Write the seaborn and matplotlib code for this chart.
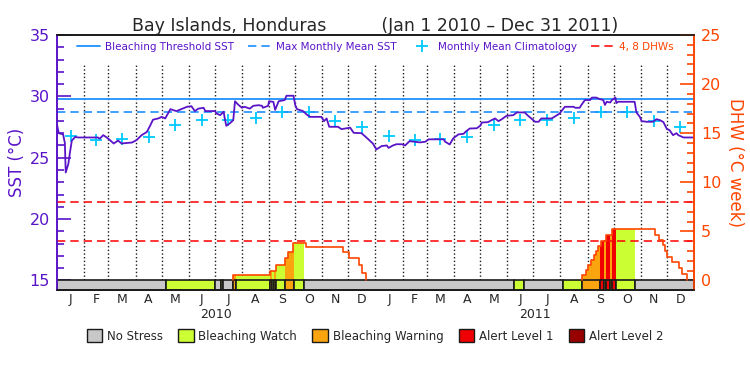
import numpy as np
import pandas as pd
import matplotlib
matplotlib.use('Agg')
import matplotlib.pyplot as plt
from matplotlib.lines import Line2D
from matplotlib.patches import Patch
import seaborn as sns

sns.set_theme(style='white')
plt.rcParams['font.family'] = ['DejaVu Sans']

# daily SST (day number from Jan 1 2010)
sst_day = [0, 2, 7, 9, 10, 13, 15, 17, 21, 24, 47, 49, 53, 58, 65, 70, 74, 86, 91, 97,
           103, 107, 110, 116, 120, 124, 130, 133, 137, 149, 154, 158, 162, 168, 170, 181,
           183, 187, 191, 192, 194, 198, 202, 204, 208, 212, 215, 221, 225, 231, 235, 236,
           242, 243, 248, 250, 254, 261, 263, 271, 273, 275, 282, 286, 290, 303, 306, 309,
           312, 322, 326, 332, 336, 340, 349, 355, 362, 366, 372, 378, 380, 385, 389, 395,
           399, 404, 410, 416, 422, 426, 443, 445, 450, 454, 460, 466, 468, 473, 481, 485,
           487, 494, 498, 502, 506, 510, 515, 523, 527, 536, 540, 548, 552, 555, 567, 573,
           576, 582, 592, 594, 599, 601, 605, 611, 613, 618, 622, 626, 628, 630, 634, 636,
           640, 641, 643, 662, 664, 668, 670, 676, 683, 687, 691, 695, 699, 702, 706, 710,
           712, 718, 730]
sst_val = [27.7, 27.0, 26.9, 26.2, 23.8, 24.5, 25.5, 26.4, 26.7, 26.65, 26.65, 26.55, 26.84,
           26.6, 26.16, 26.4, 26.16, 26.24, 26.43, 26.84, 27.1, 27.65, 28.1, 28.2, 28.33,
           28.2, 28.96, 28.88, 28.8, 29.15, 29.2, 28.8, 29.0, 29.07, 28.8, 28.8, 28.6, 28.47,
           28.75, 28.3, 27.6, 27.8, 28.06, 29.6, 29.3, 29.07, 29.15, 29.0, 29.23, 29.28,
           29.23, 29.07, 29.23, 29.6, 29.55, 28.9, 29.6, 29.7, 30.05, 30.05, 29.3, 28.96,
           28.8, 28.53, 28.33, 28.33, 27.98, 28.2, 27.52, 27.52, 27.33, 27.4, 27.45, 27.03,
           27.0, 26.62, 26.16, 25.67, 25.95, 26.0, 25.8, 26.0, 26.1, 26.1, 26.0, 26.35, 26.3,
           26.25, 26.3, 26.5, 26.5, 26.3, 26.08, 26.57, 26.9, 26.95, 27.1, 27.38, 27.4, 27.6,
           27.87, 27.9, 28.06, 28.2, 27.98, 28.15, 28.41, 28.47, 28.69, 28.69, 28.41, 27.93,
           27.93, 28.2, 28.2, 28.47, 28.6, 29.15, 29.15, 29.07, 29.07, 29.3, 29.7, 29.7, 29.9,
           29.9, 29.78, 29.7, 29.3, 29.56, 29.5, 29.7, 29.9, 29.45, 29.56, 29.56, 28.69,
           28.33, 27.98, 27.93, 27.93, 28.14, 28.06, 27.9, 27.33, 27.25, 26.84, 27.0, 26.84,
           26.65, 26.65]

# monthly mean climatology (Jan..Dec)
clim = [26.78, 26.48, 26.5, 26.7, 27.65, 28.06, 28.1, 28.27, 28.69, 28.74, 28.03, 27.49]
mmm = 28.76
threshold = 29.76
dhw_levels = [4, 8]

# degree heating weeks, step values
dhw_day = [0, 202, 244, 251, 261, 265, 270, 285, 328, 335, 346, 349, 354,
           602, 606, 609, 612, 615, 618, 620, 623, 629, 636, 685, 690, 694, 697, 699,
           705, 713, 716, 722]
dhw_val = [0, 0.55, 1.0, 1.58, 2.27, 2.94, 3.8, 3.45, 2.88, 2.27, 1.58, 0.8, 0,
           0.56, 1.07, 1.58, 2.09, 2.6, 3.04, 3.52, 4.06, 4.61, 5.29, 4.64, 4.13, 3.62,
           3.04, 2.43, 1.86, 1.24, 0.66, 0]

# bleaching alert status periods
status_start = [0, 125, 181, 188, 190, 202, 205, 244, 246, 249, 251, 261, 272, 283,
                524, 535, 580, 602, 622, 627, 629, 634, 636, 641, 662]
status_code = ['none', 'watch', 'none', 'watch', 'none', 'warning', 'watch', 'warning',
               'watch', 'warning', 'watch', 'warning', 'watch', 'none', 'watch', 'none',
               'watch', 'warning', 'alert1', 'warning', 'alert1', 'warning', 'alert1',
               'watch', 'none']
status_names = ['No Stress', 'Bleaching Watch', 'Bleaching Warning', 'Alert Level 1', 'Alert Level 2']
status_keys = ['none', 'watch', 'warning', 'alert1', 'alert2']
status_colors = ['#c8c8c8', '#ccff33', '#faa50f', '#f00000', '#990000']
cmap = dict(zip(status_keys, status_colors))

purple = '#5a14c8'
orange = '#ff4500'
blue = '#1e90ff'
cyan = '#00c8ff'

start = pd.Timestamp('2010-01-01')
months = pd.date_range('2010-01-01', '2012-01-01', freq='MS')
mdays = np.array([(m - start).days for m in months])
mid = (mdays[:-1] + mdays[1:]) / 2
ndays = mdays[-1]

fig = plt.figure(figsize=(7.5, 3.75), dpi=100)
ax = fig.add_axes([0.076, 0.2267, 0.8493, 0.68])
ax2 = ax.twinx()

ax.set_xlim(0, ndays)
ax.set_ylim(14.225, 35)
ax2.set_ylim(-0.97, 25)

# month grid
ax.vlines(mdays[1:-1], 15, 32.7, colors='k', linestyles=':', linewidth=1)

ax.axhline(threshold, color=blue, lw=1.3)
ax.axhline(mmm, color=blue, lw=1.2, dashes=(5, 3))

sns.lineplot(x=sst_day, y=sst_val, ax=ax, color=purple, lw=1.3)
clim_df = pd.DataFrame({'day': mid, 'sst': clim * 2})
sns.scatterplot(data=clim_df, x='day', y='sst', ax=ax, marker='+', s=70,
                color=cyan, linewidth=1.3)
ax.set_xlabel('')

for lv in dhw_levels:
    ax2.axhline(lv, color='#ff1010', lw=1.2, dashes=(5, 3))

# DHW fill by status
dd = np.array(dhw_day)
dv = np.array(dhw_val)
status_end = status_start[1:] + [ndays]
def dhw_at(t):
    return dv[np.searchsorted(dd, t, side='right') - 1]

for s, e, c in zip(status_start, status_end, status_code):
    if c == 'none':
        continue
    xs = [s] + [d for d in dhw_day if s < d < e] + [e]
    ys = [dhw_at(x) for x in xs[:-1]]
    ys = ys + [ys[-1]]
    ax2.fill_between(xs, 0, ys, step='post', color=cmap[c], lw=0)

# DHW outline per episode
nz = np.flatnonzero(dv > 0)
runs = np.split(nz, np.flatnonzero(np.diff(nz) > 1) + 1)
for r in runs:
    k, m = r[0], r[-1]
    xs = [dd[k]] + list(dd[k:m + 2])
    ys = [0] + list(dv[k:m + 2])
    ax2.step(xs, ys, where='post', color=orange, lw=1.2)

# status bar
for s, e, c in zip(status_start, status_end, status_code):
    ax2.broken_barh([(s, e - s)], (-0.97, 0.97), facecolors=cmap[c],
                    edgecolor='k', linewidth=1.2)

# axes styling
ax.set_xticks(mid)
ax.set_xticklabels(['J', 'F', 'M', 'A', 'M', 'J', 'J', 'A', 'S', 'O', 'N', 'D'] * 2,
                   fontsize=9)
ax.tick_params(axis='x', length=0, pad=2)
for i, yr in enumerate(['2010', '2011']):
    ax.text((mdays[12 * i] + mdays[12 * i + 12]) / 2, -0.095, yr,
            transform=ax.get_xaxis_transform(), ha='center', va='center', fontsize=9)

ax.set_yticks([15, 20, 25, 30, 35])
ax.set_yticks(np.arange(15, 36), minor=True)
ax.tick_params(axis='y', which='major', direction='in', length=10, width=1.2,
               color=purple, labelcolor=purple, labelsize=11.5, pad=5)
ax.tick_params(axis='y', which='minor', direction='in', length=5, width=1.2, color=purple)
ax.set_ylabel('SST (°C)', color=purple, fontsize=12, labelpad=3)

ax2.set_yticks([0, 5, 10, 15, 20, 25])
ax2.set_yticks(np.arange(0, 26), minor=True)
ax2.tick_params(axis='y', which='major', direction='in', length=10, width=1.2,
                color=orange, labelcolor=orange, labelsize=11.5, pad=5)
ax2.tick_params(axis='y', which='minor', direction='in', length=5, width=1.2, color=orange)
ax2.set_ylabel('DHW (°C week)', color=orange, fontsize=12, rotation=270, labelpad=16)

for a in (ax, ax2):
    a.spines['left'].set_color(purple)
    a.spines['right'].set_color(orange)
    a.spines['top'].set_color('k')
    a.spines['bottom'].set_color('k')
    for sp in a.spines.values():
        sp.set_linewidth(1.2)

ax.set_title('Bay Islands, Honduras          (Jan 1 2010 – Dec 31 2011)', fontsize=12.5, pad=3)

handles = [Line2D([], [], color=blue, lw=1.3),
           Line2D([], [], color=blue, lw=1.2, dashes=(5, 3)),
           Line2D([], [], color=cyan, marker='+', ls='none', markersize=9, mew=1.3),
           Line2D([], [], color='#ff1010', lw=1.2, dashes=(5, 3))]
labels = ['Bleaching Threshold SST', 'Max Monthly Mean SST', 'Monthly Mean Climatology', '4, 8 DHWs']
ax2.legend(handles, labels, loc='upper center', ncol=4, frameon=False, fontsize=7.5,
           labelcolor=[purple, purple, purple, orange], handlelength=2.2,
           columnspacing=1.3, handletextpad=0.5, bbox_to_anchor=(0.5, 1.01))

patches = [Patch(facecolor=c, edgecolor='k', linewidth=1) for c in status_colors]
fig.legend(patches, status_names, loc='center', ncol=5, frameon=False, fontsize=8.5,
           bbox_to_anchor=(0.5, 0.104), handlelength=1.3, handleheight=1.3,
           handletextpad=0.4, columnspacing=1.3)

fig.savefig('out.png', dpi=100)
